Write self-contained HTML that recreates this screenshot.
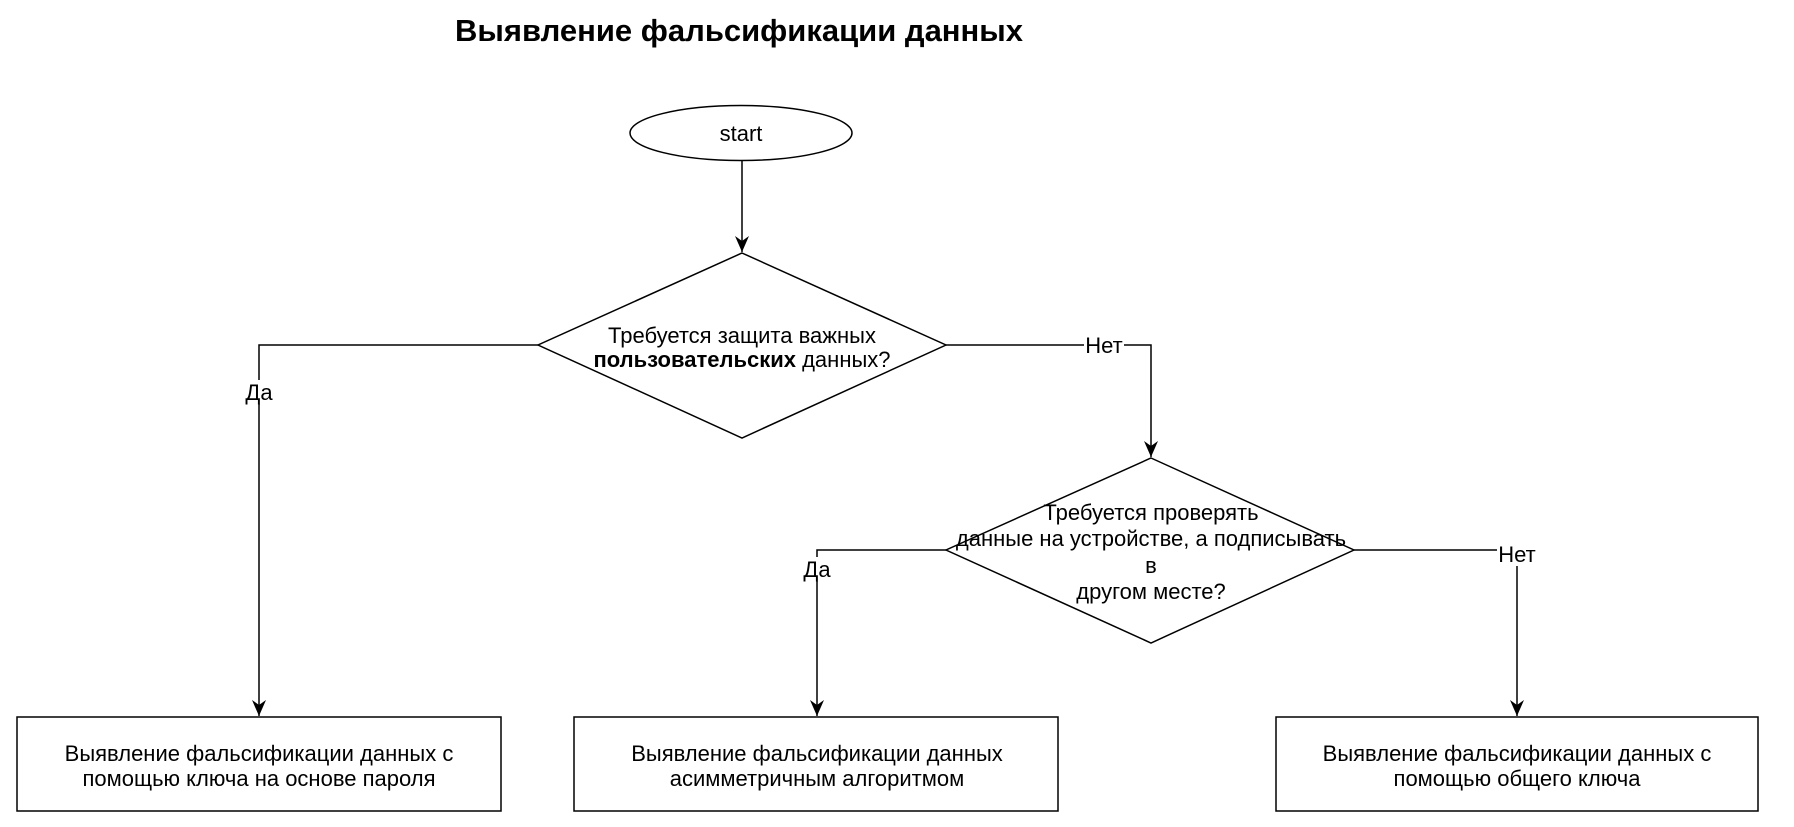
<!DOCTYPE html>
<html><head><meta charset="utf-8"><style>
html,body{margin:0;padding:0;background:#fff;}
svg text{font-family:"Liberation Sans",Arial,sans-serif;fill:#000;}
</style></head><body>
<svg width="1794" height="822" viewBox="0 0 1794 822" xmlns="http://www.w3.org/2000/svg">
<defs><marker id="a" markerWidth="14" markerHeight="16" refX="7" refY="16" orient="0" markerUnits="userSpaceOnUse"><path d="M0,0 L7,5 L14,0 L7,16 Z" fill="#000"/></marker></defs>
<text x="455" y="41" font-size="31" font-weight="bold">Выявление фальсификации данных</text>
<ellipse cx="741" cy="133" rx="111" ry="27.5" fill="#fff" stroke="#000" stroke-width="1.5"/>
<text x="741" y="141" font-size="22" text-anchor="middle">start</text>
<g stroke="#000" stroke-width="1.5" fill="none">
<line x1="742" y1="161" x2="742" y2="252" marker-end="url(#a)"/>
<polyline points="538,345 259,345 259,716" marker-end="url(#a)"/>
<polyline points="946,345 1151,345 1151,457" marker-end="url(#a)"/>
<polyline points="946,550 817,550 817,716" marker-end="url(#a)"/>
<polyline points="1354,550 1517,550 1517,716" marker-end="url(#a)"/>
<polygon points="742,253 946,345 742,438 538,345" fill="#fff"/>
<polygon points="1151,458 1354,550 1151,643 946,550" fill="#fff"/>
<rect x="17" y="717" width="484" height="94" fill="#fff"/>
<rect x="574" y="717" width="484" height="94" fill="#fff"/>
<rect x="1276" y="717" width="482" height="94" fill="#fff"/>
</g>
<rect x="242" y="380" width="34" height="24" fill="#fff"/>
<text x="259" y="400" font-size="22" text-anchor="middle">Да</text>
<rect x="1084" y="334" width="40" height="22" fill="#fff"/>
<text x="1104" y="353" font-size="22" text-anchor="middle">Нет</text>
<rect x="800" y="557" width="34" height="24" fill="#fff"/>
<text x="817" y="577" font-size="22" text-anchor="middle">Да</text>
<rect x="1497" y="542" width="40" height="24" fill="#fff"/>
<text x="1517" y="562" font-size="22" text-anchor="middle">Нет</text>
<text x="742" y="343" font-size="22" text-anchor="middle">Требуется защита важных</text>
<text x="742" y="367" font-size="22" text-anchor="middle"><tspan font-weight="bold">пользовательских</tspan> данных?</text>
<text x="1151" y="520" font-size="22" text-anchor="middle">Требуется проверять</text>
<text x="1151" y="546" font-size="22" text-anchor="middle">данные на устройстве, а подписывать</text>
<text x="1151" y="573" font-size="22" text-anchor="middle">в</text>
<text x="1151" y="599" font-size="22" text-anchor="middle">другом месте?</text>
<text x="259" y="761" font-size="22" text-anchor="middle">Выявление фальсификации данных с</text>
<text x="259" y="786" font-size="22" text-anchor="middle">помощью ключа на основе пароля</text>
<text x="817" y="761" font-size="22" text-anchor="middle">Выявление фальсификации данных</text>
<text x="817" y="786" font-size="22" text-anchor="middle">асимметричным алгоритмом</text>
<text x="1517" y="761" font-size="22" text-anchor="middle">Выявление фальсификации данных с</text>
<text x="1517" y="786" font-size="22" text-anchor="middle">помощью общего ключа</text>
</svg>
</body></html>
